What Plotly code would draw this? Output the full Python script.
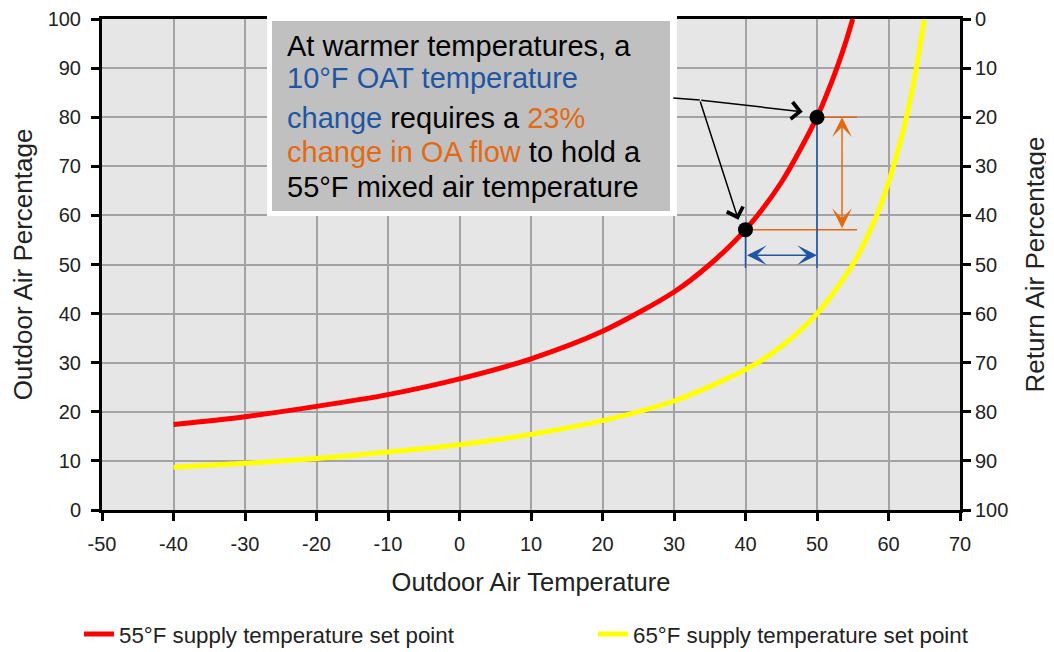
import plotly.graph_objects as go

# ---------------- data ----------------
oat_55 = [-40, -30, -20, -10, 0, 10, 20, 30, 35, 40, 45, 50, 52, 53, 54, 55]
oa_55 = [17.4, 19.0, 21.1, 23.5, 26.7, 30.8, 36.4, 44.4, 50.0, 57.1, 66.7, 80.0, 87.0, 90.9, 95.2, 100.0]

oat_65 = [-40, -30, -20, -10, 0, 10, 20, 30, 40, 45, 50, 55, 58, 60, 62, 63, 64, 65]
oa_65 = [8.7, 9.5, 10.5, 11.8, 13.3, 15.4, 18.2, 22.2, 28.6, 33.3, 40.0, 50.0, 58.8, 66.7, 76.9, 83.3, 90.9, 100.0]

marked_oat = [40, 50]
marked_oa = [57.1, 80.0]

x_ticks = [-50, -40, -30, -20, -10, 0, 10, 20, 30, 40, 50, 60, 70]
x_tick_labels = ["-50", "-40", "-30", "-20", "-10", "0", "10", "20", "30", "40", "50", "60", "70"]
y_ticks = [0, 10, 20, 30, 40, 50, 60, 70, 80, 90, 100]

series_names = ["55°F supply temperature set point", "65°F supply temperature set point"]

BLUE = "#1F56A3"
ORANGE = "#E36A12"
note_lines = [
    "At warmer temperatures, a",
    f"<span style='color:{BLUE}'>10°F OAT temperature</span>",
    f"<span style='color:{BLUE}'>change</span> requires a <span style='color:{ORANGE}'>23%</span>",
    f"<span style='color:{ORANGE}'>change in OA flow</span> to hold a",
    "55°F mixed air temperature",
]

# ---------------- layout geometry (pixels, reference screenshot coords) ----------------
PAGE_OFF = 8  # default body margin of the html page
W, H = 1054 - PAGE_OFF, 652 - PAGE_OFF
L, R, T, B = 102, 960, 19, 510


def px_x(p):
    return (p - L) / (R - L)


def px_y(p):
    return (B - p) / (B - T)


FONT = "Liberation Sans, Arial, sans-serif"

fig = go.Figure()

fig.add_trace(go.Scatter(
    x=oat_55, y=oa_55, mode="lines", name=series_names[0], legend="legend",
    line=dict(color="#FF0000", width=5, shape="spline", smoothing=0.8),
))
fig.add_trace(go.Scatter(
    x=oat_65, y=oa_65, mode="lines", name=series_names[1], legend="legend2",
    line=dict(color="#FFFF00", width=5, shape="spline", smoothing=0.8),
))
fig.add_trace(go.Scatter(
    x=marked_oat, y=marked_oa, mode="markers", showlegend=False,
    marker=dict(color="black", size=15),
))
# invisible trace to activate the right (return air) axis
fig.add_trace(go.Scatter(
    x=[x_ticks[0]], y=[y_ticks[0]], yaxis="y2", mode="markers",
    marker=dict(opacity=0), showlegend=False, hoverinfo="skip",
))

shapes = []
# orange horizontal reference lines
for xv, yv in zip(marked_oat, marked_oa):
    shapes.append(dict(type="line", xref="x", yref="y", x0=xv, x1=55.6, y0=yv, y1=yv,
                       line=dict(color=ORANGE, width=1.5), layer="between"))
# blue vertical reference lines
for xv, yv in zip(marked_oat, marked_oa):
    shapes.append(dict(type="line", xref="x", yref="y", x0=xv, x1=xv, y0=yv, y1=49.3,
                       line=dict(color=BLUE, width=1.5), layer="between"))
# note box (white frame + grey box)
shapes.append(dict(type="rect", xref="paper", yref="paper",
                   x0=px_x(267), x1=px_x(677), y0=px_y(216), y1=px_y(14),
                   fillcolor="white", line=dict(width=0), layer="above"))
shapes.append(dict(type="rect", xref="paper", yref="paper",
                   x0=px_x(272), x1=px_x(670), y0=px_y(211), y1=px_y(21),
                   fillcolor="#C0C0C0", line=dict(width=0), layer="above"))
# leader line from box to the arrow junction
shapes.append(dict(type="line", xref="x", yref="y", x0=29.9, y0=83.9, x1=33.6, y1=83.5,
                   line=dict(color="black", width=1.5), layer="above"))

annotations = []
line_centers = [46, 78, 118, 152, 187]
for txt, cy in zip(note_lines, line_centers):
    annotations.append(dict(
        text=txt, xref="paper", yref="paper", x=px_x(285), y=px_y(cy),
        xanchor="left", yanchor="middle", showarrow=False, align="left",
        font=dict(family=FONT, size=29, color="black"),
    ))
# black arrows from junction to points
for hx, hy in [(48.0, 81.1), (39.0, 59.1)]:
    annotations.append(dict(
        x=hx, y=hy, ax=33.6, ay=83.5, xref="x", yref="y", axref="x", ayref="y",
        text="", showarrow=True, arrowhead=4, arrowsize=2.2, arrowwidth=1.5, arrowcolor="black",
    ))
# orange double arrow (OA change)
annotations.append(dict(
    x=53.5, y=marked_oa[1], ax=53.5, ay=marked_oa[0], xref="x", yref="y", axref="x", ayref="y",
    text="", showarrow=True, arrowhead=3, startarrowhead=3, arrowside="end+start",
    arrowsize=2.2, startarrowsize=2.2, arrowwidth=1.5, arrowcolor=ORANGE,
))
# blue double arrow (10°F change)
annotations.append(dict(
    x=marked_oat[1], y=51.9, ax=marked_oat[0], ay=51.9, xref="x", yref="y", axref="x", ayref="y",
    text="", showarrow=True, arrowhead=3, startarrowhead=3, arrowside="end+start",
    arrowsize=2.2, startarrowsize=2.2, arrowwidth=1.5, arrowcolor=BLUE,
))

axis_common = dict(
    showline=True, linecolor="black", linewidth=3,
    ticks="outside", ticklen=8, tickwidth=3, tickcolor="black",
    tickfont=dict(family=FONT, size=20, color="#222222"),
    zeroline=False, automargin=False,
)

legend_common = dict(
    orientation="h", xanchor="left", yanchor="middle",
    font=dict(family=FONT, size=22.3, color="#222222"),
    bgcolor="rgba(0,0,0,0)",
)

fig.update_layout(
    width=W, height=H,
    margin=dict(l=L - PAGE_OFF, r=W - (R - PAGE_OFF), t=T - PAGE_OFF, b=H - (B - PAGE_OFF),
                autoexpand=False),
    paper_bgcolor="white", plot_bgcolor="#E6E6E6",
    font=dict(family=FONT, color="#222222"),
    xaxis=dict(
        range=[-50, 70], tickvals=x_ticks, ticktext=x_tick_labels, mirror=True,
        showgrid=True, gridcolor="#A3A3A3", gridwidth=1.5,
        title=dict(text="Outdoor Air Temperature", font=dict(family=FONT, size=25.5), standoff=20),
        ticklabelstandoff=6,
        **axis_common,
    ),
    yaxis=dict(
        range=[0, 100], tickvals=y_ticks, mirror=True,
        showgrid=True, gridcolor="#A3A3A3", gridwidth=1.5,
        title=dict(text="Outdoor Air Percentage", font=dict(family=FONT, size=26), standoff=8),
        ticklabelstandoff=6,
        **axis_common,
    ),
    yaxis2=dict(
        range=[100, 0], tickvals=y_ticks, overlaying="y", side="right",
        showgrid=False,
        title=dict(text="Return Air Percentage", font=dict(family=FONT, size=26), standoff=19),
        ticklabelstandoff=0,
        **axis_common,
    ),
    legend=dict(x=px_x(79), y=px_y(634), **legend_common),
    legend2=dict(x=px_x(593), y=px_y(634), **legend_common),
    shapes=shapes,
    annotations=annotations,
    showlegend=True,
)

fig.write_html("out.html")
